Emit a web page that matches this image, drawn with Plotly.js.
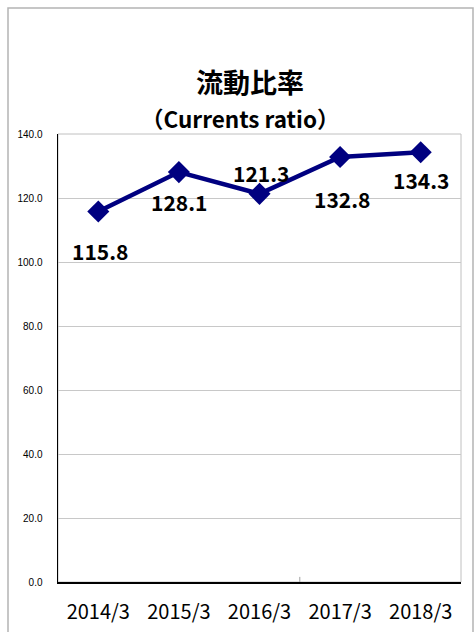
<!DOCTYPE html>
<html>
<head>
<meta charset="utf-8">
<script src="https://cdn.plot.ly/plotly-3.0.1.min.js"></script>
<style>html,body{margin:0;padding:0;background:#fff;}#chart{width:475px;height:632px;}</style>
</head>
<body>
<div id="chart"></div>
<script>
const categories = ['2014/3', '2015/3', '2016/3', '2017/3', '2018/3'];
const currentRatio = [115.8, 128.1, 121.3, 132.8, 134.3];
const valueLabels = ['115.8', '128.1', '121.3', '132.8', '134.3'];
const yTickValues = [0, 20, 40, 60, 80, 100, 120, 140];
const yTickLabels = ['0.0', '20.0', '40.0', '60.0', '80.0', '100.0', '120.0', '140.0'];
const titleMain = '流動比率';
const titleSub = '（Currents ratio）';

// label offsets (pixels) relative to each point
const labelXShift = [2, 0, 1, 2, 0];
const labelYShift = [-40, -30, 21, -42, -28];

const W = 475, H = 632;
const M = {l: 58, r: 14, t: 134, b: 50};
const pw = W - M.l - M.r, ph = H - M.t - M.b;
const px = v => (v - M.l) / pw;
const py = v => (H - M.b - v) / ph;

const font = '"Noto Sans CJK JP", "Noto Sans", sans-serif';

const trace = {
  x: categories,
  y: currentRatio,
  type: 'scatter',
  mode: 'lines+markers',
  line: {color: '#000080', width: 4.5},
  marker: {symbol: 'diamond', size: 17, color: '#000080'},
  hoverinfo: 'skip'
};

const annotations = categories.map((c, i) => ({
  x: c, y: currentRatio[i], xref: 'x', yref: 'y',
  text: '<b>' + valueLabels[i] + '</b>', showarrow: false,
  xshift: labelXShift[i], yshift: labelYShift[i],
  font: {family: font, size: 21, color: '#000'}
}));
annotations.push({
  xref: 'paper', yref: 'paper', x: px(250), y: py(60),
  text: '<b>' + titleMain + '</b>', showarrow: false,
  font: {family: font, size: 27, color: '#000'}
});
annotations.push({
  xref: 'paper', yref: 'paper', x: px(240), y: py(100),
  text: '<b>' + titleSub + '</b>', showarrow: false,
  font: {family: font, size: 22.5, color: '#000'}
});

const layout = {
  width: W, height: H,
  margin: M,
  paper_bgcolor: '#fff', plot_bgcolor: '#fff',
  showlegend: false,
  font: {family: font, color: '#000'},
  xaxis: {
    type: 'category',
    range: [-0.5, 4.5],
    showgrid: false,
    showline: true, linecolor: '#000', linewidth: 1.5,
    ticks: '',
    ticklabelstandoff: 11,
    tickfont: {family: font, size: 20, color: '#000'},
    fixedrange: true
  },
  yaxis: {
    range: [0, 140],
    tickvals: yTickValues,
    ticktext: yTickLabels,
    showgrid: true, gridcolor: '#c8c8c8', gridwidth: 1,
    zeroline: false,
    showline: true, linecolor: '#000', linewidth: 1.5,
    ticks: '',
    ticklabelstandoff: 12,
    tickfont: {family: '"Liberation Sans", Arial, sans-serif', size: 10, color: '#000'},
    fixedrange: true
  },
  shapes: [
    {type: 'rect', xref: 'paper', yref: 'paper', x0: px(8), x1: px(473), y0: py(640), y1: py(8),
     line: {color: '#b4b4b4', width: 1.5}, layer: 'below'},
    {type: 'rect', xref: 'paper', yref: 'paper', x0: 0, x1: 1, y0: 0, y1: 1,
     line: {color: '#c0c0c0', width: 1}, layer: 'below'},
    {type: 'line', xref: 'x', yref: 'y', x0: 2.5, x1: 2.5, y0: 0, y1: 1.6,
     line: {color: '#a0a0a0', width: 1}, layer: 'below'}
  ],
  annotations: annotations
};

Plotly.newPlot('chart', [trace], layout, {displayModeBar: false, staticPlot: true});
</script>
</body>
</html>
